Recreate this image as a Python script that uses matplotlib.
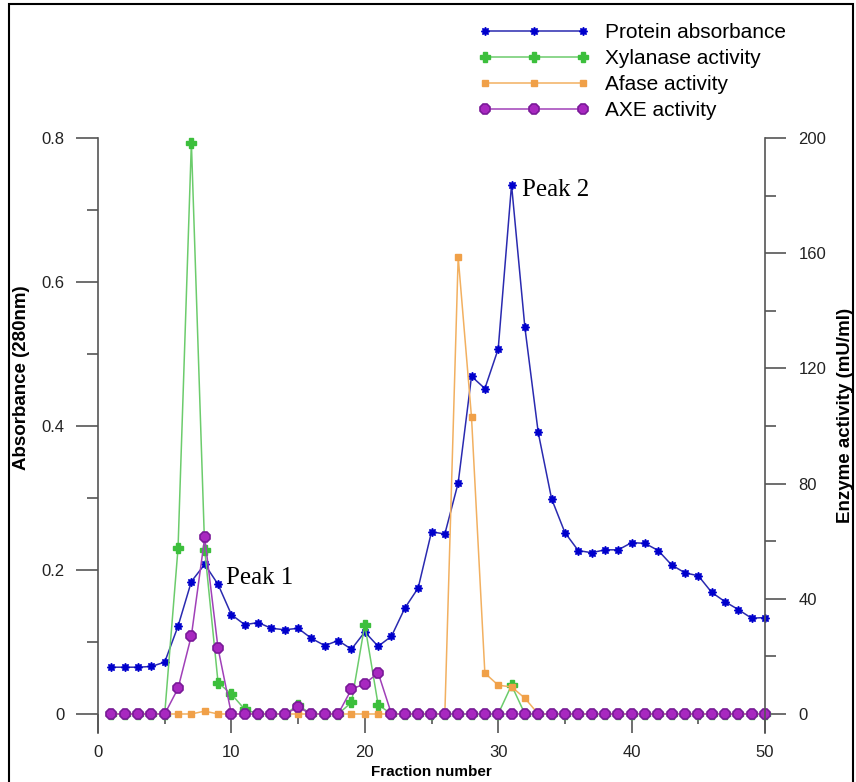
import matplotlib
matplotlib.use('Agg')
import matplotlib.pyplot as plt
from matplotlib.patches import Rectangle

plt.rcParams['font.family'] = ['Liberation Sans', 'DejaVu Sans']

fraction = list(range(1, 51))

protein = [0.065, 0.065, 0.065, 0.066, 0.072, 0.122, 0.184, 0.208, 0.180, 0.138,
           0.124, 0.127, 0.119, 0.117, 0.119, 0.105, 0.095, 0.102, 0.090, 0.114,
           0.094, 0.108, 0.147, 0.175, 0.253, 0.250, 0.321, 0.469, 0.452, 0.507,
           0.735, 0.537, 0.391, 0.299, 0.252, 0.227, 0.224, 0.228, 0.228, 0.238,
           0.237, 0.227, 0.207, 0.196, 0.192, 0.169, 0.156, 0.145, 0.133, 0.134]

xylanase = [0, 0, 0, 0, 0, 57.6, 198.4, 57.0, 10.9, 6.9,
            1.6, 0, 0, 0, 3.0, 0, 0, 0, 4.0, 31.0,
            3.2, 0, 0, 0, 0, 0, 0, 0, 0, 0,
            10.0, 0, 0, 0, 0, 0, 0, 0, 0, 0,
            0, 0, 0, 0, 0, 0, 0, 0, 0, 0]

afase = [0, 0, 0, 0, 0, 0, 0, 1.0, 0, 0,
         0, 0, 0, 0, 0, 0, 0, 0, 0, 0,
         0, 0, 0, 0, 0, 0, 158.7, 103.0, 14.2, 10.0,
         9.4, 5.5, 0, 0, 0, 0, 0, 0, 0, 0,
         0, 0, 0, 0, 0, 0, 0, 0, 0, 0]

axe = [0, 0, 0, 0, 0, 8.9, 27.2, 61.3, 22.8, 0,
       0, 0, 0, 0, 2.3, 0, 0, 0, 8.6, 10.5,
       14.3, 0, 0, 0, 0, 0, 0, 0, 0, 0,
       0, 0, 0, 0, 0, 0, 0, 0, 0, 0,
       0, 0, 0, 0, 0, 0, 0, 0, 0, 0]

W, H = 856, 782
fig = plt.figure(figsize=(W / 100, H / 100), dpi=100)
ax = fig.add_axes([98 / W, 49 / H, 667 / W, 595 / H])
ax2 = ax.twinx()

spine_c = '#555555'
ybot = -0.0264

ax.set_xlim(0, 50)
ax.set_ylim(ybot, 0.8)
ax2.set_ylim(ybot * 250, 200)
for a in (ax, ax2):
    a.patch.set_visible(False)
    a.spines['top'].set_visible(False)
    a.spines['bottom'].set_position(('data', 0))
    a.spines['bottom'].set_color('none')
    for s in ('left', 'right'):
        a.spines[s].set_color(spine_c)
        a.spines[s].set_linewidth(1.2)
ax.spines['right'].set_visible(False)
ax2.spines['left'].set_visible(False)

ax.set_yticks([0, 0.2, 0.4, 0.6, 0.8])
ax.set_yticklabels(['0', '0.2', '0.4', '0.6', '0.8'])
ax.set_yticks([0.1, 0.3, 0.5, 0.7], minor=True)
ax.tick_params(axis='y', which='major', length=16, width=1.2, color=spine_c, pad=8,
               labelsize=12, labelcolor='#222222')
ax.tick_params(axis='y', which='minor', length=8, width=1.2, color=spine_c)

ax.set_xticks([0, 10, 20, 30, 40, 50])
ax.set_xticks([5, 15, 25, 35, 45], minor=True)
ax.tick_params(axis='x', which='major', length=14, width=1.2, color=spine_c, pad=8,
               labelsize=12, labelcolor='#222222')
ax.tick_params(axis='x', which='minor', length=7, width=1.2, color=spine_c)

ax2.set_yticks([0, 40, 80, 120, 160, 200])
ax2.set_yticks([20, 60, 100, 140, 180], minor=True)
ax2.tick_params(axis='y', which='major', length=15, width=1.2, color=spine_c, pad=9,
                labelsize=12, labelcolor='#222222')
ax2.tick_params(axis='y', which='minor', length=8, width=1.2, color=spine_c)

# series
l1, = ax.plot(fraction, protein, color='#2a2ab0', lw=1.1, marker=(8, 1, 0), ms=6,
              mfc='#0000cc', mec='#0000cc', clip_on=False, label='Protein absorbance')
l2, = ax2.plot(fraction, xylanase, color='#6ccc6c', lw=1.1, marker='P', ms=7,
               mfc='#3cbf3c', mec='#3cbf3c', clip_on=False, label='Xylanase activity')
l3, = ax2.plot(fraction, afase, color='#f2b060', lw=1.1, marker='s', ms=4,
               mfc='#f0a048', mec='#f0a048', clip_on=False, label='Afase activity')
l4, = ax2.plot(fraction, axe, color='#a040b8', lw=1.1, marker='8', ms=7.5,
               mfc='#a828c0', mec='#7a1a98', mew=1.2, clip_on=False, label='AXE activity')

ax.text(9.6, 0.189, 'Peak 1', family='Liberation Serif', fontsize=18, va='center', ha='left')
ax.text(31.8, 0.728, 'Peak 2', family='Liberation Serif', fontsize=18, va='center', ha='left')

ax.text(-0.114, 0.597, 'Absorbance (280nm)', transform=ax.transAxes, rotation=90,
        ha='center', va='center', fontsize=13.5, fontweight='bold')
ax2.text(1.12, 0.533, 'Enzyme activity (mU/ml)', transform=ax2.transAxes, rotation=90,
         ha='center', va='center', fontsize=13.5, fontweight='bold')
ax.text(0.5, -0.066, 'Fraction number', transform=ax.transAxes,
        ha='center', va='center', fontsize=11, fontweight='bold')

fig.legend(handles=[l1, l2, l3, l4], loc='upper left', bbox_to_anchor=(479 / W, 1 - 23 / H),
           frameon=False, fontsize=15, numpoints=3, handlelength=5.3, handletextpad=0.75,
           labelspacing=0.34, borderpad=0, borderaxespad=0)

# frame around the figure
fig.add_artist(Rectangle((9 / W, -0.05), (853 - 9) / W, 1.05 - 4 / H,
                         transform=fig.transFigure, fill=False, ec='black', lw=1.5))

fig.savefig('out.png', dpi=100)
